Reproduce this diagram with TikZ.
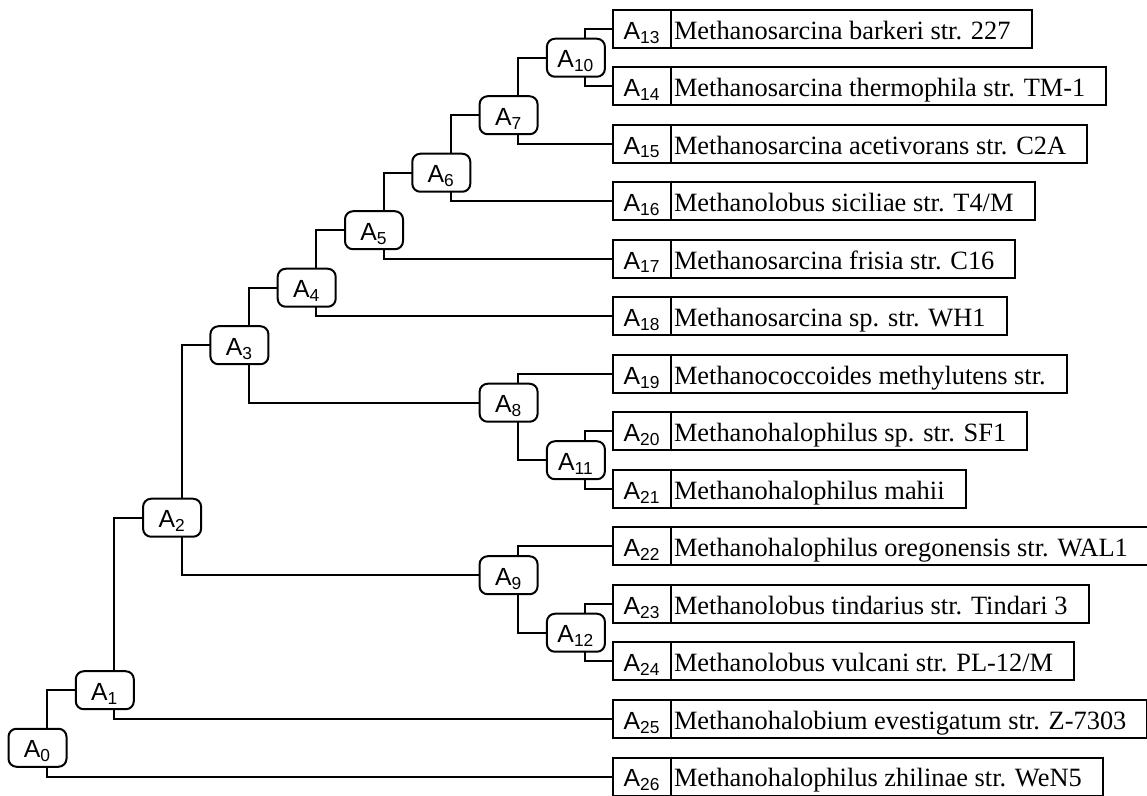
\documentclass[tikz,border=0pt]{standalone}
\usepackage{fontspec}
\setmainfont{Liberation Serif}
\newfontfamily\tagfont{Liberation Sans}
\usetikzlibrary{positioning}

\begin{document}
\begin{tikzpicture}[x=0.5pt, y=-0.5pt, line width=1pt, outer sep=0pt,
    ancestor/.style={draw, rounded corners=4pt, minimum width=29pt, minimum height=19pt, inner sep=0pt,
        text height=10.2pt, text depth=0pt, font=\tagfont\fontsize{12.4}{14}\selectfont},
    leaftag/.style={draw, minimum width=29pt, minimum height=19pt, inner sep=0pt,
        text height=10.2pt, text depth=0pt, font=\tagfont\fontsize{12.4}{14}\selectfont},
    species/.style={draw, minimum height=19pt, inner xsep=1.5pt, inner ysep=0pt,
        text height=10.2pt, text depth=0pt, font=\fontsize{13.2}{15}\selectfont,
        execute at end node={\hspace{9pt}}}]
    \clip (0,0) rectangle (1147,796);

    % Leaves
    \foreach \n/\txt [count=\r from 0] in {13/{Methanosarcina barkeri str. 227},
        14/{Methanosarcina thermophila str. TM-1}, 15/{Methanosarcina acetivorans str. C2A},
        16/{Methanolobus siciliae str. T4/M}, 17/{Methanosarcina frisia str. C16},
        18/{Methanosarcina sp. str. WH1}, 19/{Methanococcoides methylutens str.},
        20/{Methanohalophilus sp. str. SF1}, 21/{Methanohalophilus mahii},
        22/{Methanohalophilus oregonensis str. WAL1}, 23/{Methanolobus tindarius str. Tindari 3},
        24/{Methanolobus vulcani str. PL-12/M}, 25/{Methanohalobium evestigatum str. Z-7303},
        26/{Methanohalophilus zhilinae str. WeN5}} {
        \node[leaftag] (A\n) at (642, 29+57.5*\r) {A\textsubscript{\n}};
        \node[species, right=0pt of A\n] (sp\n) {\txt};
    }

    % Inner nodes: number/column/gap
    \foreach \k/\c/\g in {0/0/12, 1/1/11, 2/2/8, 3/3/5, 4/4/4, 5/5/3, 6/6/2,
        7/7/1, 8/7/6, 9/7/9, 10/8/0, 11/8/7, 12/8/10} {
        \node[ancestor] (A\k) at (37.5+67.3*\c, 57.75+57.5*\g) {A\textsubscript{\k}};
    }

    % Branches: parent/upper/lower
    \foreach \p/\a/\b in {0/1/26, 1/2/25, 2/3/9, 3/4/8, 4/5/18, 5/6/17, 6/7/16,
        7/10/15, 8/19/11, 9/22/12, 10/13/14, 11/20/21, 12/23/24} {
        \draw ([xshift=4.75pt]A\p.north) |- (A\a.west);
        \draw ([xshift=4.75pt]A\p.south) |- (A\b.west);
    }
\end{tikzpicture}
\end{document}
